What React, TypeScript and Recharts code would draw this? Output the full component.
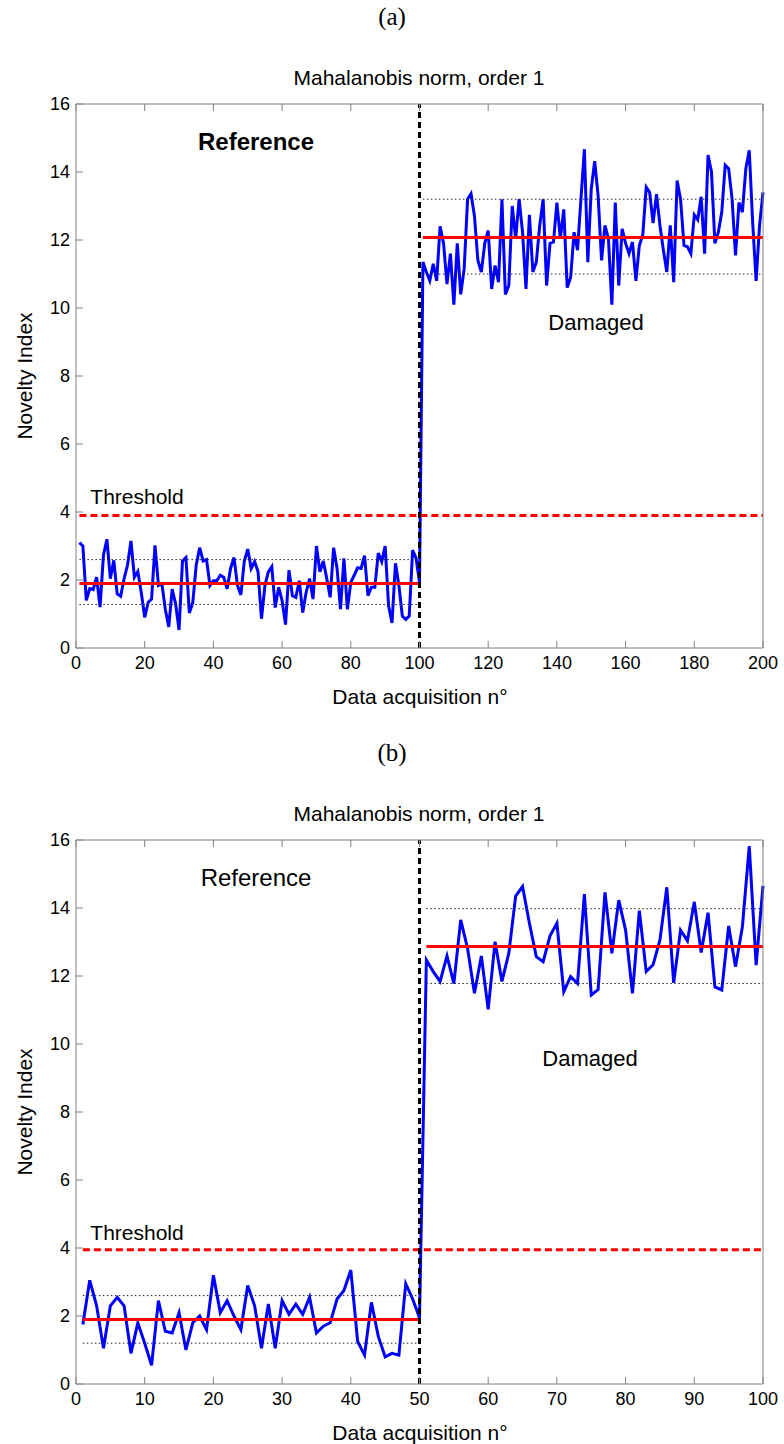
import { LineChart, Line, XAxis, YAxis, ReferenceLine } from "recharts"

// tick labels
const xTicksA = [0, 20, 40, 60, 80, 100, 120, 140, 160, 180, 200]
const xTicksB = [0, 10, 20, 30, 40, 50, 60, 70, 80, 90, 100]
const yTicks = [0, 2, 4, 6, 8, 10, 12, 14, 16]

// (a) novelty index, acquisitions 1..200
const noveltyA = [
  3.1, 3.0, 1.4, 1.75, 1.72, 2.08, 1.2, 2.74, 3.2, 2.04,
  2.58, 1.59, 1.52, 2.04, 2.44, 3.15, 2.08, 2.25, 1.63, 0.9,
  1.34, 1.44, 3.02, 1.84, 1.89, 1.14, 0.62, 1.73, 1.3, 0.53,
  2.56, 2.66, 1.03, 1.34, 2.44, 2.95, 2.56, 2.6, 1.84, 1.98,
  1.98, 2.14, 2.08, 1.74, 2.34, 2.66, 1.84, 1.56, 2.56, 2.91,
  2.34, 2.54, 2.24, 0.86, 1.84, 2.24, 2.39, 1.19, 1.79, 1.39,
  0.69, 2.29, 1.54, 1.49, 1.98, 1.04, 1.64, 2.04, 1.44, 3.0,
  2.24, 2.56, 2.04, 1.49, 2.95, 2.34, 1.14, 2.64, 1.14, 1.93,
  2.14, 2.36, 2.34, 2.72, 1.54, 1.79, 1.79, 2.79, 2.54, 3.0,
  1.24, 0.74, 2.49, 1.84, 0.94, 0.84, 0.94, 2.88, 2.64, 1.93,
  11.35, 11.06, 10.8, 11.3, 10.8, 12.4, 11.9, 10.7, 11.6, 10.1,
  11.9, 10.4, 11.15, 13.2, 13.36, 12.7, 11.4, 11.06, 11.9, 12.28,
  10.56, 11.25, 10.76, 13.2, 10.4, 10.66, 13.0, 12.04, 13.2, 12.23,
  10.56, 12.74, 11.06, 11.35, 12.43, 13.2, 10.66, 11.9, 11.94, 13.1,
  12.04, 12.9, 10.6, 10.9, 12.23, 11.7, 13.2, 14.67, 11.35, 13.5,
  14.32, 13.3, 11.4, 12.43, 12.04, 10.1, 13.1, 10.66, 12.33, 11.9,
  11.6, 11.94, 10.8, 11.84, 12.15, 13.55, 13.4, 12.5, 13.35, 12.43,
  11.7, 11.06, 12.43, 10.76, 13.75, 13.2, 11.84, 11.8, 11.6, 12.74,
  12.6, 13.27, 11.6, 14.5, 14.0, 11.9, 12.23, 12.82, 14.2, 14.1,
  13.2, 11.55, 13.1, 12.82, 14.1, 14.64, 12.5, 10.8, 12.43, 13.4,
]

// (b) novelty index, acquisitions 1..100
const noveltyB = [
  1.75, 3.05, 2.3, 1.05, 2.3, 2.55, 2.3, 0.9, 1.8, 1.2,
  0.55, 2.45, 1.55, 1.5, 2.1, 1.0, 1.8, 2.0, 1.6, 3.2,
  2.1, 2.45, 2.0, 1.6, 2.9, 2.3, 1.05, 2.35, 1.05, 2.45,
  2.05, 2.35, 2.05, 2.55, 1.5, 1.7, 1.8, 2.5, 2.75, 3.35,
  1.25, 0.85, 2.4, 1.4, 0.8, 0.9, 0.85, 2.95, 2.5, 1.95,
  12.47, 12.13, 11.84, 12.59, 11.78, 13.65, 12.81, 11.49, 12.59, 11.02,
  13.01, 11.84, 12.67, 14.35, 14.63, 13.55, 12.57, 12.42, 13.18, 13.55,
  11.54, 11.98, 11.78, 14.41, 11.44, 11.6, 14.46, 12.67, 14.23, 13.35,
  11.49, 13.92, 12.13, 12.33, 13.06, 14.61, 11.8, 13.35, 13.04, 14.18,
  12.69, 13.86, 11.68, 11.59, 13.47, 12.27, 13.45, 15.82, 12.32, 14.65,
]

// mean and +/- std lines for each state
const bandsA = [
  { from: 1, to: 100, mean: 1.9, upper: 2.6, lower: 1.28 },
  { from: 101, to: 200, mean: 12.07, upper: 13.2, lower: 11.0 },
]
const bandsB = [
  { from: 1, to: 50, mean: 1.9, upper: 2.6, lower: 1.2 },
  { from: 51, to: 100, mean: 12.87, upper: 13.98, lower: 11.78 },
]

const thresholdA = 3.9
const thresholdB = 3.95
const splitA = 100
const splitB = 50

const SANS = '"Liberation Sans", Arial, sans-serif'
const AXIS = "#808080"

interface Band {
  from: number
  to: number
  mean: number
  upper: number
  lower: number
}

interface PanelProps {
  top: number
  tag: string
  values: number[]
  xMax: number
  xTicks: number[]
  bands: Band[]
  threshold: number
  split: number
  boldReference: boolean
  damagedX: number
}

function text(x: number, y: number, size: number, extra: React.CSSProperties = {}) {
  return {
    position: "absolute" as const,
    left: x,
    top: y,
    transform: "translate(-50%, -50%)",
    fontFamily: SANS,
    fontSize: size,
    whiteSpace: "nowrap" as const,
    color: "#000",
    ...extra,
  }
}

function Panel({ top, tag, values, xMax, xTicks, bands, threshold, split, boldReference, damagedX }: PanelProps) {
  const data = values.map((v, i) => ({ n: i + 1, v }))

  return (
    <div style={{ position: "absolute", left: 0, top, width: 784, height: 736 }}>
      <div style={text(392, 17, 25, { fontFamily: '"Liberation Serif", "Times New Roman", serif' })}>{tag}</div>
      <div style={text(419, 78, 21)}>Mahalanobis norm, order 1</div>
      <div style={text(420, 697, 21)}>Data acquisition n°</div>
      <div style={text(25, 376, 21, { transform: "translate(-50%, -50%) rotate(-90deg)" })}>Novelty Index</div>
      <div style={text(256, 142, 24, { fontWeight: boldReference ? "bold" : "normal" })}>Reference</div>
      <div style={text(damagedX, 323, 22)}>Damaged</div>
      <div style={text(137, 497, 21)}>Threshold</div>

      <LineChart width={784} height={736} data={data} margin={{ top: 103, right: 20, bottom: 58, left: 36 }}>
        <XAxis
          dataKey="n"
          type="number"
          domain={[0, xMax]}
          ticks={xTicks}
          height={30}
          stroke={AXIS}
          tickSize={-7}
          tickMargin={15}
          tick={{ fill: "#000", fontSize: 18, fontFamily: SANS }}
          interval={0}
        />
        <XAxis
          xAxisId="top"
          orientation="top"
          dataKey="n"
          type="number"
          domain={[0, xMax]}
          ticks={xTicks}
          height={1}
          stroke={AXIS}
          tickSize={-7}
          tickFormatter={() => ""}
          interval={0}
        />
        <YAxis
          type="number"
          domain={[0, 16]}
          ticks={yTicks}
          width={40}
          stroke={AXIS}
          tickSize={-7}
          tickMargin={13}
          tick={{ fill: "#000", fontSize: 18, fontFamily: SANS }}
          interval={0}
        />
        <YAxis
          yAxisId="right"
          orientation="right"
          type="number"
          domain={[0, 16]}
          ticks={yTicks}
          width={1}
          stroke={AXIS}
          tickSize={-7}
          tickFormatter={() => ""}
          interval={0}
        />

        <Line
          dataKey="v"
          type="linear"
          stroke="#0000ff"
          strokeWidth={3}
          dot={false}
          isAnimationActive={false}
        />

        {bands.map((b, i) => (
          <ReferenceLine
            key={`up-${i}`}
            segment={[{ x: b.from, y: b.upper }, { x: b.to, y: b.upper }]}
            stroke="#222"
            strokeWidth={1}
            strokeDasharray="1.5 2.5"
          />
        ))}
        {bands.map((b, i) => (
          <ReferenceLine
            key={`lo-${i}`}
            segment={[{ x: b.from, y: b.lower }, { x: b.to, y: b.lower }]}
            stroke="#222"
            strokeWidth={1}
            strokeDasharray="1.5 2.5"
          />
        ))}
        {bands.map((b, i) => (
          <ReferenceLine
            key={`mean-${i}`}
            segment={[{ x: b.from, y: b.mean }, { x: b.to, y: b.mean }]}
            stroke="#ff0000"
            strokeWidth={3}
          />
        ))}

        <ReferenceLine
          segment={[{ x: 1, y: threshold }, { x: xMax, y: threshold }]}
          stroke="#ff0000"
          strokeWidth={3}
          strokeDasharray="7 4"
        />
        <ReferenceLine x={split} stroke="#000" strokeWidth={3} strokeDasharray="6 4" />
      </LineChart>
    </div>
  )
}

export default function App() {
  return (
    <div style={{ position: "absolute", left: 0, top: 0, width: 784, height: 1444, background: "#fff" }}>
      <Panel
        top={0}
        tag="(a)"
        values={noveltyA}
        xMax={200}
        xTicks={xTicksA}
        bands={bandsA}
        threshold={thresholdA}
        split={splitA}
        boldReference={true}
        damagedX={596}
      />
      <Panel
        top={736}
        tag="(b)"
        values={noveltyB}
        xMax={100}
        xTicks={xTicksB}
        bands={bandsB}
        threshold={thresholdB}
        split={splitB}
        boldReference={false}
        damagedX={590}
      />
    </div>
  )
}
